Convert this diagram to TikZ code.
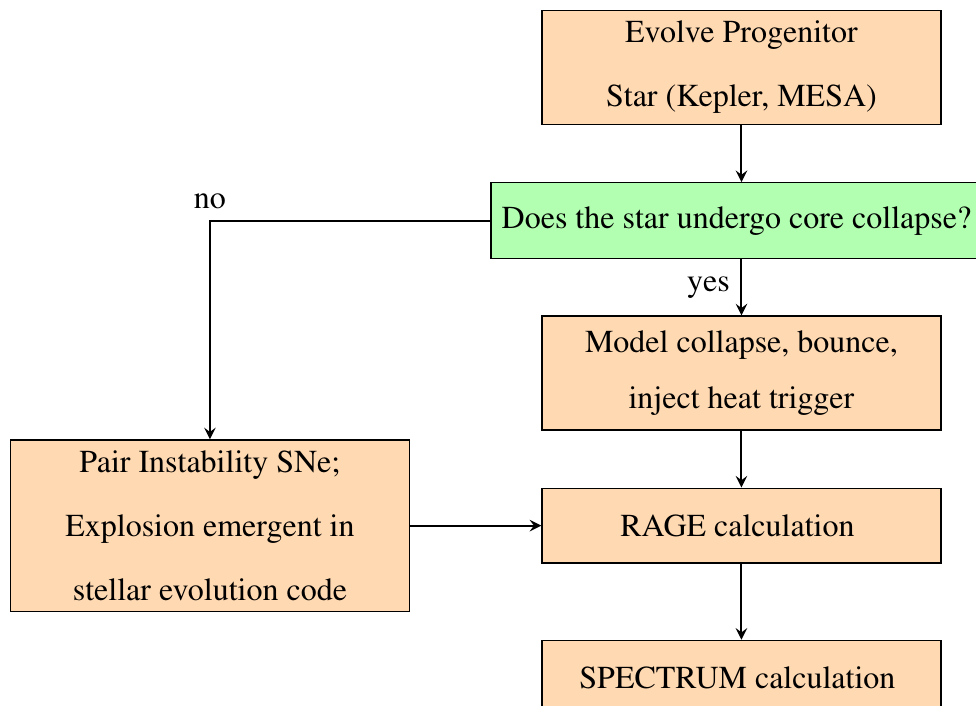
\documentclass[tikz,border=0pt]{standalone}
\usepackage[T1]{fontenc}
\usepackage{mathptmx}
\usepackage{tikz}
\usepackage{xcolor}
\usetikzlibrary{positioning,shapes,arrows,calc}

\begin{document}
\begin{tikzpicture}[>=stealth]
                \useasboundingbox (0,0) rectangle (305pt,-220.6pt);

                \node[rectangle, draw, fill=orange!30, minimum width=124.7pt, minimum height=35.3pt, align=center] (evolve) at (231.7pt,-21.1pt) {
                    Evolve Progenitor \\[8pt]
                    Star (Kepler, MESA)
                };

                \node[rectangle, draw, fill=green!30, minimum height=23.75pt, align=center, below=17.8pt of evolve] (collapse) {
                    Does the star undergo core collapse?
                };

                \node[rectangle, draw, fill=orange!30, minimum width=124.7pt, minimum height=35.6pt, align=center, below=17.5pt of collapse] (model) {
                    Model collapse, bounce, \\[5.5pt]
                    inject heat trigger
                };

                \node[rectangle, draw, fill=orange!30, minimum width=124.7pt, minimum height=23.4pt, align=center, below=17.8pt of model] (rage) {
                    RAGE calculation
                };

                \node[rectangle, draw, fill=orange!30, minimum width=124.7pt, minimum height=23.4pt, align=center, below=23.75pt of rage] (spectrum) {
                    SPECTRUM calculation
                };

                \node[rectangle, draw, fill=orange!30, minimum width=124.7pt, minimum height=53.1pt, align=center, left=41pt of rage] (pair) {
                    Pair Instability SNe; \\[8pt]
                    Explosion emergent in \\[8pt]
                    stellar evolution code
                };

                \draw[->,semithick] (evolve) -- (collapse);
                \draw[->,semithick] (collapse) -- (model) node[midway,left] {yes};
                \draw[->,semithick] (model) -- (rage);
                \draw[->,semithick] (rage) -- (spectrum);
                \draw[->,semithick] (collapse.west) -| (pair.north) node[pos=0.5,above] {no};
                \draw[->,semithick] (pair) -- (rage);
            \end{tikzpicture}
\end{document}
